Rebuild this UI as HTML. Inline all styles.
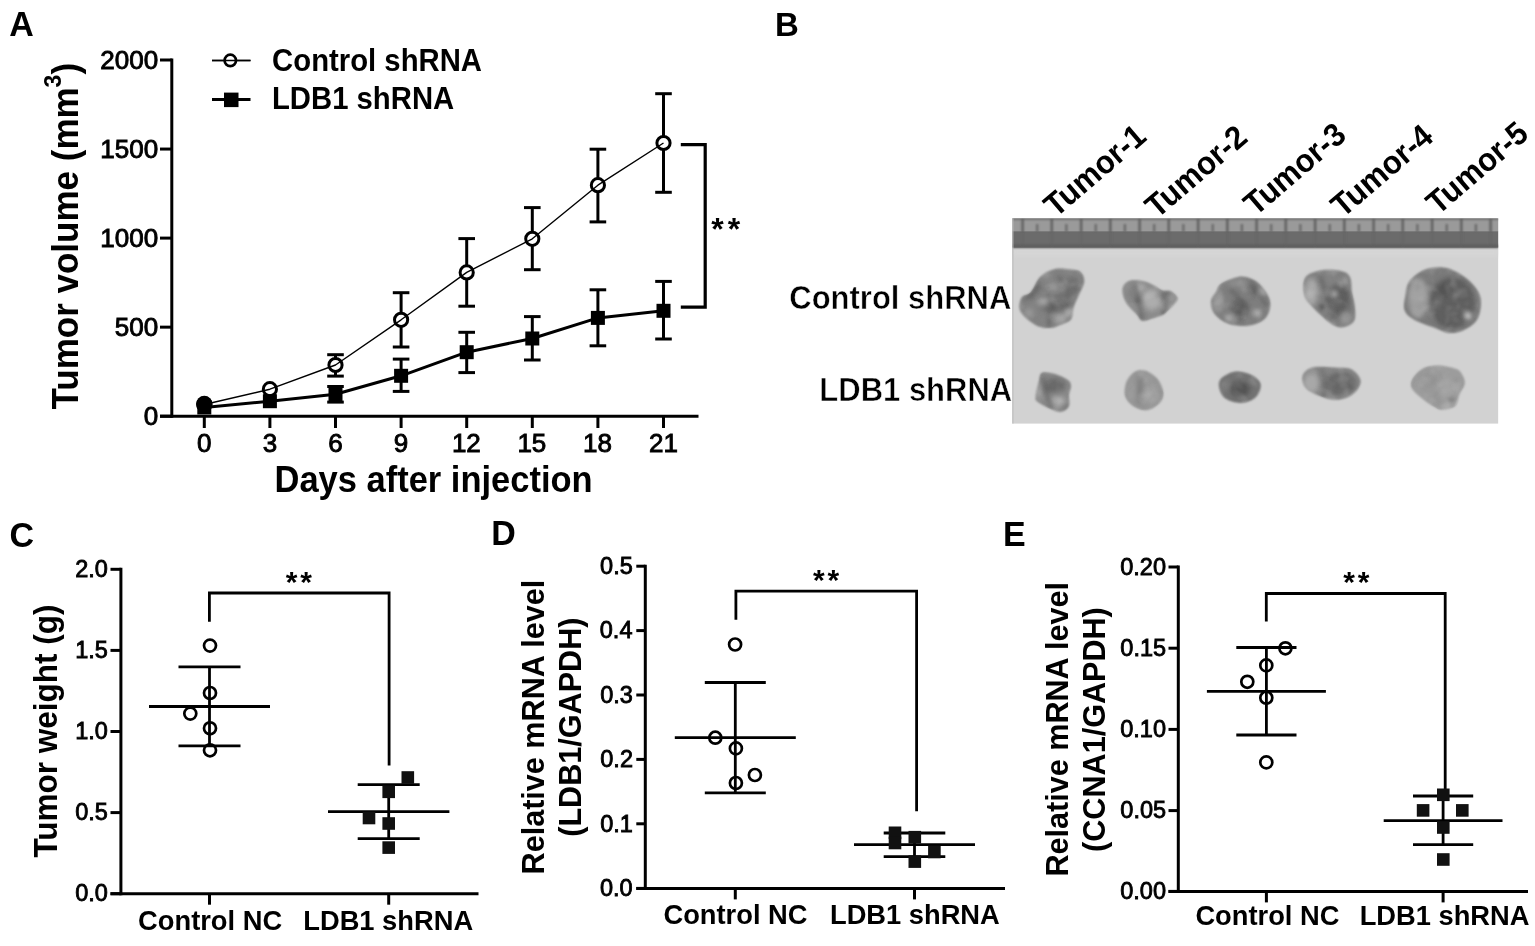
<!DOCTYPE html>
<html><head><meta charset="utf-8"><title>Figure</title>
<style>html,body{margin:0;padding:0;background:#fff;} svg{display:block}</style></head>
<body><svg width="1535" height="946" viewBox="0 0 1535 946">
<style>text{stroke:none}</style><rect width="1535" height="946" fill="#fff"/>
<g style="font-family:'Liberation Sans',Arial,sans-serif;font-weight:bold" fill="#000" stroke="#000" stroke-width="0">
</g>
<g fill="#000" stroke="#000" style="font-family:'Liberation Sans',Arial,sans-serif;font-weight:bold">
<text transform="translate(9.35,36.19) scale(1.0,1.03)" font-size="34">A</text>
<line x1="171.80" y1="58.50" x2="171.80" y2="417.80" stroke-width="3" stroke-linecap="butt"/>
<line x1="160.00" y1="60.00" x2="171.80" y2="60.00" stroke-width="3" stroke-linecap="butt"/>
<text x="100.34" y="68.64" font-size="26" font-weight="normal" style="stroke:#000;stroke-width:0.9px">2000</text>
<line x1="160.00" y1="149.05" x2="171.80" y2="149.05" stroke-width="3" stroke-linecap="butt"/>
<text x="100.34" y="157.69" font-size="26" font-weight="normal" style="stroke:#000;stroke-width:0.9px">1500</text>
<line x1="160.00" y1="238.10" x2="171.80" y2="238.10" stroke-width="3" stroke-linecap="butt"/>
<text x="100.34" y="246.74" font-size="26" font-weight="normal" style="stroke:#000;stroke-width:0.9px">1000</text>
<line x1="160.00" y1="327.15" x2="171.80" y2="327.15" stroke-width="3" stroke-linecap="butt"/>
<text x="114.80" y="335.79" font-size="26" font-weight="normal" style="stroke:#000;stroke-width:0.9px">500</text>
<line x1="160.00" y1="416.20" x2="171.80" y2="416.20" stroke-width="3" stroke-linecap="butt"/>
<text x="143.71" y="424.84" font-size="26" font-weight="normal" style="stroke:#000;stroke-width:0.9px">0</text>
<line x1="160.00" y1="416.20" x2="698.50" y2="416.20" stroke-width="3" stroke-linecap="butt"/>
<line x1="204.30" y1="416.20" x2="204.30" y2="428.00" stroke-width="3" stroke-linecap="butt"/>
<text x="197.07" y="451.80" font-size="26" font-weight="normal" style="stroke:#000;stroke-width:0.9px">0</text>
<line x1="269.90" y1="416.20" x2="269.90" y2="428.00" stroke-width="3" stroke-linecap="butt"/>
<text x="262.75" y="451.80" font-size="26" font-weight="normal" style="stroke:#000;stroke-width:0.9px">3</text>
<line x1="335.50" y1="416.20" x2="335.50" y2="428.00" stroke-width="3" stroke-linecap="butt"/>
<text x="328.18" y="451.80" font-size="26" font-weight="normal" style="stroke:#000;stroke-width:0.9px">6</text>
<line x1="401.10" y1="416.20" x2="401.10" y2="428.00" stroke-width="3" stroke-linecap="butt"/>
<text x="393.87" y="451.80" font-size="26" font-weight="normal" style="stroke:#000;stroke-width:0.9px">9</text>
<line x1="466.70" y1="416.20" x2="466.70" y2="428.00" stroke-width="3" stroke-linecap="butt"/>
<text x="451.91" y="451.80" font-size="26" font-weight="normal" style="stroke:#000;stroke-width:0.9px">12</text>
<line x1="532.30" y1="416.20" x2="532.30" y2="428.00" stroke-width="3" stroke-linecap="butt"/>
<text x="517.40" y="451.54" font-size="26" font-weight="normal" style="stroke:#000;stroke-width:0.9px">15</text>
<line x1="597.90" y1="416.20" x2="597.90" y2="428.00" stroke-width="3" stroke-linecap="butt"/>
<text x="583.01" y="451.80" font-size="26" font-weight="normal" style="stroke:#000;stroke-width:0.9px">18</text>
<line x1="663.50" y1="416.20" x2="663.50" y2="428.00" stroke-width="3" stroke-linecap="butt"/>
<text x="649.03" y="451.80" font-size="26" font-weight="normal" style="stroke:#000;stroke-width:0.9px">21</text>
<text transform="translate(274.49,492.30) scale(1.0,1.05)" font-size="34.5">Days after injection</text>
<text transform="translate(78.2,409.4) rotate(-90) scale(1,1.04)" font-size="35">Tumor volume (mm<tspan font-size="23" dy="-16.5">3</tspan><tspan dy="16.5">)</tspan></text>
<line x1="212.00" y1="60.40" x2="250.50" y2="60.40" stroke-width="1.5" stroke-linecap="butt"/>
<circle cx="230.3" cy="60.4" r="5.7" fill="#fff" stroke="#000" stroke-width="2.7"/>
<line x1="212.00" y1="60.40" x2="250.50" y2="60.40" stroke-width="1.5" stroke-linecap="butt"/>
<line x1="212.00" y1="99.60" x2="250.50" y2="99.60" stroke-width="3" stroke-linecap="butt"/>
<rect x="224" y="92.6" width="14.5" height="14.5" fill="#000" stroke="none"/>
<text transform="translate(272.10,70.60) scale(1.0,1.045)" font-size="29.3">Control shRNA</text>
<text transform="translate(271.94,109.30) scale(1.0,1.045)" font-size="29.3">LDB1 shRNA</text>
<line x1="335.50" y1="354.70" x2="335.50" y2="376.10" stroke-width="3" stroke-linecap="butt"/>
<line x1="327.20" y1="354.70" x2="343.80" y2="354.70" stroke-width="3" stroke-linecap="butt"/>
<line x1="327.20" y1="376.10" x2="343.80" y2="376.10" stroke-width="3" stroke-linecap="butt"/>
<line x1="335.50" y1="386.50" x2="335.50" y2="402.10" stroke-width="3" stroke-linecap="butt"/>
<line x1="327.20" y1="386.50" x2="343.80" y2="386.50" stroke-width="3" stroke-linecap="butt"/>
<line x1="327.20" y1="402.10" x2="343.80" y2="402.10" stroke-width="3" stroke-linecap="butt"/>
<line x1="401.10" y1="292.70" x2="401.10" y2="347.00" stroke-width="3" stroke-linecap="butt"/>
<line x1="392.80" y1="292.70" x2="409.40" y2="292.70" stroke-width="3" stroke-linecap="butt"/>
<line x1="392.80" y1="347.00" x2="409.40" y2="347.00" stroke-width="3" stroke-linecap="butt"/>
<line x1="401.10" y1="359.10" x2="401.10" y2="391.40" stroke-width="3" stroke-linecap="butt"/>
<line x1="392.80" y1="359.10" x2="409.40" y2="359.10" stroke-width="3" stroke-linecap="butt"/>
<line x1="392.80" y1="391.40" x2="409.40" y2="391.40" stroke-width="3" stroke-linecap="butt"/>
<line x1="466.70" y1="238.60" x2="466.70" y2="306.20" stroke-width="3" stroke-linecap="butt"/>
<line x1="458.40" y1="238.60" x2="475.00" y2="238.60" stroke-width="3" stroke-linecap="butt"/>
<line x1="458.40" y1="306.20" x2="475.00" y2="306.20" stroke-width="3" stroke-linecap="butt"/>
<line x1="466.70" y1="332.30" x2="466.70" y2="372.60" stroke-width="3" stroke-linecap="butt"/>
<line x1="458.40" y1="332.30" x2="475.00" y2="332.30" stroke-width="3" stroke-linecap="butt"/>
<line x1="458.40" y1="372.60" x2="475.00" y2="372.60" stroke-width="3" stroke-linecap="butt"/>
<line x1="532.30" y1="207.60" x2="532.30" y2="269.70" stroke-width="3" stroke-linecap="butt"/>
<line x1="524.00" y1="207.60" x2="540.60" y2="207.60" stroke-width="3" stroke-linecap="butt"/>
<line x1="524.00" y1="269.70" x2="540.60" y2="269.70" stroke-width="3" stroke-linecap="butt"/>
<line x1="532.30" y1="316.60" x2="532.30" y2="360.00" stroke-width="3" stroke-linecap="butt"/>
<line x1="524.00" y1="316.60" x2="540.60" y2="316.60" stroke-width="3" stroke-linecap="butt"/>
<line x1="524.00" y1="360.00" x2="540.60" y2="360.00" stroke-width="3" stroke-linecap="butt"/>
<line x1="597.90" y1="149.20" x2="597.90" y2="221.90" stroke-width="3" stroke-linecap="butt"/>
<line x1="589.60" y1="149.20" x2="606.20" y2="149.20" stroke-width="3" stroke-linecap="butt"/>
<line x1="589.60" y1="221.90" x2="606.20" y2="221.90" stroke-width="3" stroke-linecap="butt"/>
<line x1="597.90" y1="289.80" x2="597.90" y2="345.80" stroke-width="3" stroke-linecap="butt"/>
<line x1="589.60" y1="289.80" x2="606.20" y2="289.80" stroke-width="3" stroke-linecap="butt"/>
<line x1="589.60" y1="345.80" x2="606.20" y2="345.80" stroke-width="3" stroke-linecap="butt"/>
<line x1="663.50" y1="93.70" x2="663.50" y2="192.30" stroke-width="3" stroke-linecap="butt"/>
<line x1="655.20" y1="93.70" x2="671.80" y2="93.70" stroke-width="3" stroke-linecap="butt"/>
<line x1="655.20" y1="192.30" x2="671.80" y2="192.30" stroke-width="3" stroke-linecap="butt"/>
<line x1="663.50" y1="281.40" x2="663.50" y2="339.00" stroke-width="3" stroke-linecap="butt"/>
<line x1="655.20" y1="281.40" x2="671.80" y2="281.40" stroke-width="3" stroke-linecap="butt"/>
<line x1="655.20" y1="339.00" x2="671.80" y2="339.00" stroke-width="3" stroke-linecap="butt"/>
<polyline points="204.3,407.5 269.9,401.2 335.5,394.3 401.1,375.8 466.7,352.2 532.3,338.5 597.9,317.9 663.5,310.8" fill="none" stroke-width="3" stroke-linejoin="round"/>
<circle cx="204.3" cy="404.5" r="6.6" fill="#fff" stroke="#000" stroke-width="3"/>
<circle cx="269.9" cy="389.2" r="6.6" fill="#fff" stroke="#000" stroke-width="3"/>
<circle cx="335.5" cy="365.0" r="6.6" fill="#fff" stroke="#000" stroke-width="3"/>
<circle cx="401.1" cy="319.8" r="6.6" fill="#fff" stroke="#000" stroke-width="3"/>
<circle cx="466.7" cy="272.4" r="6.6" fill="#fff" stroke="#000" stroke-width="3"/>
<circle cx="532.3" cy="238.8" r="6.6" fill="#fff" stroke="#000" stroke-width="3"/>
<circle cx="597.9" cy="185.2" r="6.6" fill="#fff" stroke="#000" stroke-width="3"/>
<circle cx="663.5" cy="143.0" r="6.6" fill="#fff" stroke="#000" stroke-width="3"/>
<rect x="197.3" y="400.5" width="14" height="14" fill="#000" stroke="none"/>
<rect x="262.9" y="394.2" width="14" height="14" fill="#000" stroke="none"/>
<rect x="328.5" y="387.3" width="14" height="14" fill="#000" stroke="none"/>
<rect x="394.1" y="368.8" width="14" height="14" fill="#000" stroke="none"/>
<rect x="459.7" y="345.2" width="14" height="14" fill="#000" stroke="none"/>
<rect x="525.3" y="331.5" width="14" height="14" fill="#000" stroke="none"/>
<rect x="590.9" y="310.9" width="14" height="14" fill="#000" stroke="none"/>
<rect x="656.5" y="303.8" width="14" height="14" fill="#000" stroke="none"/>
<circle cx="204.3" cy="404" r="8.2" fill="#000" stroke="none"/>
<polyline points="204.3,404.5 269.9,389.2 335.5,365.0 401.1,319.8 466.7,272.4 532.3,238.8 597.9,185.2 663.5,143.0" fill="none" stroke-width="1.4" stroke-linejoin="round"/>
<path d="M680.8,144.6 H705.2 V307.2 H680.8" fill="none" stroke-width="3.2"/>
<text x="711.20" y="239.62" font-size="32">*</text>
<text x="727.70" y="239.62" font-size="32">*</text>
<text transform="translate(774.99,35.89) scale(1.0,1.03)" font-size="33">B</text>
<text transform="translate(789.28,309.40) scale(1.0,1.05)" font-size="31" style="stroke:#fff;stroke-width:0.5px">Control shRNA</text>
<text transform="translate(819.37,401.10) scale(1.0,1.05)" font-size="31" style="stroke:#fff;stroke-width:0.5px">LDB1 shRNA</text>
<text transform="translate(1055.68,218.25) rotate(-40.5) scale(1,1.05)" font-size="31">Tumor-1</text>
<text transform="translate(1156.90,219.30) rotate(-40.5) scale(1,1.05)" font-size="31">Tumor-2</text>
<text transform="translate(1255.50,216.80) rotate(-40.5) scale(1,1.05)" font-size="31">Tumor-3</text>
<text transform="translate(1342.68,218.55) rotate(-40.5) scale(1,1.05)" font-size="31">Tumor-4</text>
<text transform="translate(1437.98,215.65) rotate(-40.5) scale(1,1.05)" font-size="31">Tumor-5</text>
<defs><filter id="bl" x="-20%" y="-20%" width="140%" height="140%"><feGaussianBlur stdDeviation="1.3"/></filter><filter id="bl2" x="-50%" y="-50%" width="200%" height="200%"><feGaussianBlur stdDeviation="2.2"/></filter><filter id="nzd" x="0" y="0" width="100%" height="100%"><feTurbulence type="fractalNoise" baseFrequency="0.09" numOctaves="2" seed="7"/><feColorMatrix type="matrix" values="0 0 0 0 0.25  0 0 0 0 0.25  0 0 0 0 0.25  2.6 0 0 0 -1.25"/><feGaussianBlur stdDeviation="1.2"/></filter><filter id="nzl" x="0" y="0" width="100%" height="100%"><feTurbulence type="fractalNoise" baseFrequency="0.08" numOctaves="2" seed="19"/><feColorMatrix type="matrix" values="0 0 0 0 0.8  0 0 0 0 0.8  0 0 0 0 0.8  2.6 0 0 0 -1.3"/><feGaussianBlur stdDeviation="1.2"/></filter><filter id="bl3" filterUnits="userSpaceOnUse" x="1000" y="200" width="520" height="240"><feGaussianBlur stdDeviation="2.2"/></filter><clipPath id="pc"><rect x="1012.2" y="218.2" width="486.2" height="205.6"/></clipPath></defs>
<g stroke="none" clip-path="url(#pc)">
<rect x="1012.2" y="218.2" width="486.2" height="205.6" fill="#d2d2d2"/>
<rect x="1012.2" y="248" width="486.2" height="8" fill="#d6d6d6" filter="url(#bl2)"/>
<rect x="1012.2" y="218.2" width="486.2" height="13.2" fill="#9a9a9a"/>
<rect x="1012.2" y="231.2" width="486.2" height="16.4" fill="#6b6b6b"/>
<g filter="url(#bl)"><rect x="1012.2" y="217.8" width="486.2" height="2" fill="#6a6a6a"/><rect x="1012.2" y="244.5" width="486.2" height="3.5" fill="#5f5f5f"/><rect x="1021.4" y="218.5" width="2.4" height="13.5" fill="#5e5e5e"/><rect x="1021.6" y="232" width="2" height="15" fill="#626262" opacity="0.6"/><rect x="1036.2" y="224" width="2" height="8" fill="#646464"/><rect x="1050.6" y="218.5" width="2.4" height="13.5" fill="#5e5e5e"/><rect x="1050.8" y="232" width="2" height="15" fill="#626262" opacity="0.6"/><rect x="1065.4" y="224" width="2" height="8" fill="#646464"/><rect x="1079.9" y="218.5" width="2.4" height="13.5" fill="#5e5e5e"/><rect x="1080.1" y="232" width="2" height="15" fill="#626262" opacity="0.6"/><rect x="1094.7" y="224" width="2" height="8" fill="#646464"/><rect x="1109.1" y="218.5" width="2.4" height="13.5" fill="#5e5e5e"/><rect x="1109.3" y="232" width="2" height="15" fill="#626262" opacity="0.6"/><rect x="1123.9" y="224" width="2" height="8" fill="#646464"/><rect x="1138.4" y="218.5" width="2.4" height="13.5" fill="#5e5e5e"/><rect x="1138.6" y="232" width="2" height="15" fill="#626262" opacity="0.6"/><rect x="1153.2" y="224" width="2" height="8" fill="#646464"/><rect x="1167.6" y="218.5" width="2.4" height="13.5" fill="#5e5e5e"/><rect x="1167.8" y="232" width="2" height="15" fill="#626262" opacity="0.6"/><rect x="1182.4" y="224" width="2" height="8" fill="#646464"/><rect x="1196.9" y="218.5" width="2.4" height="13.5" fill="#5e5e5e"/><rect x="1197.1" y="232" width="2" height="15" fill="#626262" opacity="0.6"/><rect x="1211.7" y="224" width="2" height="8" fill="#646464"/><rect x="1226.1" y="218.5" width="2.4" height="13.5" fill="#5e5e5e"/><rect x="1226.3" y="232" width="2" height="15" fill="#626262" opacity="0.6"/><rect x="1240.9" y="224" width="2" height="8" fill="#646464"/><rect x="1255.4" y="218.5" width="2.4" height="13.5" fill="#5e5e5e"/><rect x="1255.6" y="232" width="2" height="15" fill="#626262" opacity="0.6"/><rect x="1270.2" y="224" width="2" height="8" fill="#646464"/><rect x="1284.6" y="218.5" width="2.4" height="13.5" fill="#5e5e5e"/><rect x="1284.8" y="232" width="2" height="15" fill="#626262" opacity="0.6"/><rect x="1299.4" y="224" width="2" height="8" fill="#646464"/><rect x="1313.9" y="218.5" width="2.4" height="13.5" fill="#5e5e5e"/><rect x="1314.1" y="232" width="2" height="15" fill="#626262" opacity="0.6"/><rect x="1328.7" y="224" width="2" height="8" fill="#646464"/><rect x="1343.1" y="218.5" width="2.4" height="13.5" fill="#5e5e5e"/><rect x="1343.3" y="232" width="2" height="15" fill="#626262" opacity="0.6"/><rect x="1357.9" y="224" width="2" height="8" fill="#646464"/><rect x="1372.4" y="218.5" width="2.4" height="13.5" fill="#5e5e5e"/><rect x="1372.6" y="232" width="2" height="15" fill="#626262" opacity="0.6"/><rect x="1387.2" y="224" width="2" height="8" fill="#646464"/><rect x="1401.6" y="218.5" width="2.4" height="13.5" fill="#5e5e5e"/><rect x="1401.8" y="232" width="2" height="15" fill="#626262" opacity="0.6"/><rect x="1416.4" y="224" width="2" height="8" fill="#646464"/><rect x="1430.9" y="218.5" width="2.4" height="13.5" fill="#5e5e5e"/><rect x="1431.1" y="232" width="2" height="15" fill="#626262" opacity="0.6"/><rect x="1445.7" y="224" width="2" height="8" fill="#646464"/><rect x="1460.1" y="218.5" width="2.4" height="13.5" fill="#5e5e5e"/><rect x="1460.3" y="232" width="2" height="15" fill="#626262" opacity="0.6"/><rect x="1474.9" y="224" width="2" height="8" fill="#646464"/><rect x="1489.4" y="218.5" width="2.4" height="13.5" fill="#5e5e5e"/><rect x="1489.6" y="232" width="2" height="15" fill="#626262" opacity="0.6"/></g>
<rect x="1012.2" y="218.2" width="1.2" height="205.6" fill="#b8b8b8"/>
<clipPath id="tc"><path d="M1054.8,269.0 C1059.9,267.8 1066.7,269.0 1071.0,269.5 C1075.3,270.0 1078.3,269.9 1080.5,271.9 C1082.7,273.9 1084.6,277.4 1084.3,281.4 C1084.0,285.4 1080.3,291.4 1078.6,295.7 C1076.8,300.0 1075.1,303.0 1073.8,307.0 C1072.5,311.0 1073.4,316.5 1071.0,319.5 C1068.6,322.5 1063.1,323.8 1059.6,325.2 C1056.1,326.6 1054.0,328.0 1050.0,328.0 C1046.0,328.0 1040.7,327.9 1035.8,325.2 C1030.9,322.5 1023.0,316.4 1020.6,311.8 C1018.2,307.2 1019.8,300.9 1021.5,297.6 C1023.2,294.3 1027.8,295.4 1031.0,291.9 C1034.2,288.4 1036.5,280.4 1040.5,276.6 C1044.5,272.8 1049.7,270.2 1054.8,269.0Z"/><path d="M1123.5,285.4 C1124.9,283.1 1127.7,281.0 1131.1,280.3 C1134.5,279.6 1140.0,280.4 1143.8,281.2 C1147.6,282.0 1150.9,283.8 1154.0,285.4 C1157.1,286.9 1159.7,289.5 1162.5,290.5 C1165.3,291.5 1168.4,290.0 1170.9,291.3 C1173.4,292.6 1177.1,296.0 1177.7,298.1 C1178.3,300.2 1176.0,301.9 1174.3,304.0 C1172.6,306.1 1169.5,309.0 1167.5,310.8 C1165.5,312.6 1165.0,313.7 1162.5,315.0 C1160.0,316.3 1155.7,317.4 1152.3,318.4 C1148.9,319.4 1144.6,321.5 1142.1,320.9 C1139.6,320.3 1139.6,317.8 1137.1,315.0 C1134.6,312.2 1129.3,307.5 1126.9,304.0 C1124.5,300.5 1123.3,296.9 1122.7,293.8 C1122.1,290.7 1122.1,287.6 1123.5,285.4Z"/><path d="M1221.2,283.7 C1224.9,281.2 1233.2,277.8 1238.1,276.9 C1243.0,276.0 1247.0,277.2 1250.8,278.6 C1254.6,280.0 1258.0,282.4 1260.9,285.4 C1263.9,288.4 1267.0,292.9 1268.5,296.4 C1270.0,299.9 1270.6,303.0 1270.2,306.5 C1269.8,310.0 1268.5,314.5 1266.0,317.5 C1263.5,320.5 1259.2,322.9 1255.0,324.3 C1250.8,325.7 1245.5,326.3 1240.6,326.0 C1235.7,325.7 1229.9,324.9 1225.4,322.6 C1220.9,320.4 1215.9,316.2 1213.5,312.5 C1211.1,308.8 1210.6,304.0 1211.0,300.6 C1211.4,297.2 1214.4,294.9 1216.1,292.1 C1217.8,289.3 1217.5,286.2 1221.2,283.7Z"/><path d="M1305.3,277.5 C1308.1,273.3 1315.4,271.4 1321.5,270.3 C1327.6,269.2 1337.3,270.0 1342.1,271.2 C1346.9,272.4 1348.5,273.9 1350.2,277.5 C1351.9,281.1 1351.2,288.2 1352.0,292.8 C1352.8,297.4 1354.2,300.8 1354.7,305.3 C1355.2,309.8 1355.9,316.2 1354.7,319.7 C1353.5,323.1 1350.3,324.8 1347.5,326.0 C1344.7,327.2 1341.2,327.9 1337.6,326.9 C1334.0,325.8 1330.2,323.0 1326.0,319.7 C1321.8,316.4 1316.1,311.2 1312.5,307.1 C1308.9,303.1 1305.6,300.3 1304.4,295.4 C1303.2,290.5 1302.5,281.7 1305.3,277.5Z"/><path d="M1409.3,281.6 C1412.3,277.5 1418.0,272.6 1423.5,270.2 C1429.0,267.8 1437.0,267.1 1442.6,267.4 C1448.1,267.7 1452.0,269.6 1456.8,272.1 C1461.5,274.6 1467.3,278.8 1471.1,282.6 C1474.9,286.4 1478.1,290.7 1479.7,295.0 C1481.3,299.3 1481.2,303.9 1480.6,308.3 C1480.0,312.7 1478.8,318.0 1475.9,321.6 C1473.1,325.2 1468.0,328.3 1463.5,330.2 C1459.0,332.1 1454.3,333.5 1449.2,333.0 C1444.1,332.5 1439.0,329.5 1433.1,327.3 C1427.2,325.1 1418.8,322.6 1414.0,319.7 C1409.2,316.8 1405.9,314.3 1404.5,310.2 C1403.1,306.1 1404.7,299.8 1405.5,295.0 C1406.3,290.2 1406.3,285.7 1409.3,281.6Z"/><path d="M1041.9,372.7 C1044.5,371.5 1050.1,372.6 1054.4,373.8 C1058.8,375.0 1065.2,377.9 1068.0,380.0 C1070.8,382.1 1070.9,383.9 1071.1,386.3 C1071.3,388.7 1069.3,391.3 1069.0,394.6 C1068.7,397.9 1070.2,403.2 1069.0,406.1 C1067.8,409.0 1064.7,411.3 1061.7,411.8 C1058.8,412.3 1055.3,410.9 1051.3,409.2 C1047.3,407.5 1040.3,404.0 1037.7,401.9 C1035.1,399.8 1035.4,400.2 1035.6,396.7 C1035.8,393.2 1037.8,385.1 1038.8,381.1 C1039.8,377.1 1039.3,373.9 1041.9,372.7Z"/><path d="M1134.7,371.7 C1137.8,369.8 1141.3,369.4 1145.1,370.6 C1148.9,371.8 1154.6,375.4 1157.6,379.0 C1160.6,382.6 1162.9,388.5 1163.3,392.5 C1163.7,396.5 1162.4,400.1 1159.7,403.0 C1157.0,405.9 1151.4,409.5 1147.2,410.2 C1143.0,410.9 1138.4,409.4 1134.7,407.1 C1131.0,404.9 1126.7,400.9 1125.3,396.7 C1123.9,392.5 1124.7,386.3 1126.3,382.1 C1127.9,377.9 1131.6,373.6 1134.7,371.7Z"/><path d="M1220.6,379.0 C1223.0,376.1 1229.5,372.6 1234.2,371.7 C1238.9,370.8 1244.6,372.2 1248.8,373.8 C1253.0,375.4 1257.3,378.5 1259.2,381.1 C1261.1,383.7 1261.1,386.4 1260.2,389.4 C1259.3,392.3 1257.3,396.5 1254.0,398.8 C1250.7,401.1 1245.1,403.0 1240.4,403.0 C1235.7,403.0 1229.3,401.1 1225.8,398.8 C1222.3,396.5 1220.5,392.7 1219.6,389.4 C1218.7,386.1 1218.2,381.9 1220.6,379.0Z"/><path d="M1304.0,372.7 C1306.0,370.3 1309.2,367.9 1314.4,367.0 C1319.6,366.1 1329.2,367.1 1335.3,367.5 C1341.4,367.9 1346.7,367.2 1350.9,369.1 C1355.1,371.0 1359.1,375.8 1360.3,379.0 C1361.5,382.2 1360.1,385.4 1358.2,388.4 C1356.3,391.3 1352.6,394.8 1348.8,396.7 C1345.0,398.6 1339.8,399.8 1335.3,399.8 C1330.8,399.8 1326.4,398.4 1321.7,396.7 C1317.0,395.0 1310.3,392.0 1307.1,389.4 C1303.9,386.8 1303.0,383.9 1302.5,381.1 C1302.0,378.3 1302.0,375.1 1304.0,372.7Z"/><path d="M1412.2,379.4 C1414.0,375.9 1419.0,370.6 1423.3,368.3 C1427.6,366.0 1432.5,365.3 1438.1,365.4 C1443.6,365.5 1452.4,367.2 1456.6,369.0 C1460.8,370.8 1461.8,373.8 1463.2,376.4 C1464.6,379.0 1465.3,381.6 1464.7,384.6 C1464.1,387.6 1461.1,390.6 1459.5,394.2 C1457.9,397.8 1458.0,403.4 1455.1,406.0 C1452.1,408.6 1445.2,409.6 1441.8,409.7 C1438.3,409.8 1437.5,408.5 1434.4,406.8 C1431.3,405.1 1427.0,402.4 1423.3,399.4 C1419.6,396.4 1414.0,392.3 1412.2,389.0 C1410.4,385.7 1410.4,382.8 1412.2,379.4Z"/></clipPath>
<clipPath id="cC1"><path d="M1054.8,269.0 C1059.9,267.8 1066.7,269.0 1071.0,269.5 C1075.3,270.0 1078.3,269.9 1080.5,271.9 C1082.7,273.9 1084.6,277.4 1084.3,281.4 C1084.0,285.4 1080.3,291.4 1078.6,295.7 C1076.8,300.0 1075.1,303.0 1073.8,307.0 C1072.5,311.0 1073.4,316.5 1071.0,319.5 C1068.6,322.5 1063.1,323.8 1059.6,325.2 C1056.1,326.6 1054.0,328.0 1050.0,328.0 C1046.0,328.0 1040.7,327.9 1035.8,325.2 C1030.9,322.5 1023.0,316.4 1020.6,311.8 C1018.2,307.2 1019.8,300.9 1021.5,297.6 C1023.2,294.3 1027.8,295.4 1031.0,291.9 C1034.2,288.4 1036.5,280.4 1040.5,276.6 C1044.5,272.8 1049.7,270.2 1054.8,269.0Z"/></clipPath>
<clipPath id="cC2"><path d="M1123.5,285.4 C1124.9,283.1 1127.7,281.0 1131.1,280.3 C1134.5,279.6 1140.0,280.4 1143.8,281.2 C1147.6,282.0 1150.9,283.8 1154.0,285.4 C1157.1,286.9 1159.7,289.5 1162.5,290.5 C1165.3,291.5 1168.4,290.0 1170.9,291.3 C1173.4,292.6 1177.1,296.0 1177.7,298.1 C1178.3,300.2 1176.0,301.9 1174.3,304.0 C1172.6,306.1 1169.5,309.0 1167.5,310.8 C1165.5,312.6 1165.0,313.7 1162.5,315.0 C1160.0,316.3 1155.7,317.4 1152.3,318.4 C1148.9,319.4 1144.6,321.5 1142.1,320.9 C1139.6,320.3 1139.6,317.8 1137.1,315.0 C1134.6,312.2 1129.3,307.5 1126.9,304.0 C1124.5,300.5 1123.3,296.9 1122.7,293.8 C1122.1,290.7 1122.1,287.6 1123.5,285.4Z"/></clipPath>
<clipPath id="cC3"><path d="M1221.2,283.7 C1224.9,281.2 1233.2,277.8 1238.1,276.9 C1243.0,276.0 1247.0,277.2 1250.8,278.6 C1254.6,280.0 1258.0,282.4 1260.9,285.4 C1263.9,288.4 1267.0,292.9 1268.5,296.4 C1270.0,299.9 1270.6,303.0 1270.2,306.5 C1269.8,310.0 1268.5,314.5 1266.0,317.5 C1263.5,320.5 1259.2,322.9 1255.0,324.3 C1250.8,325.7 1245.5,326.3 1240.6,326.0 C1235.7,325.7 1229.9,324.9 1225.4,322.6 C1220.9,320.4 1215.9,316.2 1213.5,312.5 C1211.1,308.8 1210.6,304.0 1211.0,300.6 C1211.4,297.2 1214.4,294.9 1216.1,292.1 C1217.8,289.3 1217.5,286.2 1221.2,283.7Z"/></clipPath>
<clipPath id="cC4"><path d="M1305.3,277.5 C1308.1,273.3 1315.4,271.4 1321.5,270.3 C1327.6,269.2 1337.3,270.0 1342.1,271.2 C1346.9,272.4 1348.5,273.9 1350.2,277.5 C1351.9,281.1 1351.2,288.2 1352.0,292.8 C1352.8,297.4 1354.2,300.8 1354.7,305.3 C1355.2,309.8 1355.9,316.2 1354.7,319.7 C1353.5,323.1 1350.3,324.8 1347.5,326.0 C1344.7,327.2 1341.2,327.9 1337.6,326.9 C1334.0,325.8 1330.2,323.0 1326.0,319.7 C1321.8,316.4 1316.1,311.2 1312.5,307.1 C1308.9,303.1 1305.6,300.3 1304.4,295.4 C1303.2,290.5 1302.5,281.7 1305.3,277.5Z"/></clipPath>
<clipPath id="cC5"><path d="M1409.3,281.6 C1412.3,277.5 1418.0,272.6 1423.5,270.2 C1429.0,267.8 1437.0,267.1 1442.6,267.4 C1448.1,267.7 1452.0,269.6 1456.8,272.1 C1461.5,274.6 1467.3,278.8 1471.1,282.6 C1474.9,286.4 1478.1,290.7 1479.7,295.0 C1481.3,299.3 1481.2,303.9 1480.6,308.3 C1480.0,312.7 1478.8,318.0 1475.9,321.6 C1473.1,325.2 1468.0,328.3 1463.5,330.2 C1459.0,332.1 1454.3,333.5 1449.2,333.0 C1444.1,332.5 1439.0,329.5 1433.1,327.3 C1427.2,325.1 1418.8,322.6 1414.0,319.7 C1409.2,316.8 1405.9,314.3 1404.5,310.2 C1403.1,306.1 1404.7,299.8 1405.5,295.0 C1406.3,290.2 1406.3,285.7 1409.3,281.6Z"/></clipPath>
<clipPath id="cL1"><path d="M1041.9,372.7 C1044.5,371.5 1050.1,372.6 1054.4,373.8 C1058.8,375.0 1065.2,377.9 1068.0,380.0 C1070.8,382.1 1070.9,383.9 1071.1,386.3 C1071.3,388.7 1069.3,391.3 1069.0,394.6 C1068.7,397.9 1070.2,403.2 1069.0,406.1 C1067.8,409.0 1064.7,411.3 1061.7,411.8 C1058.8,412.3 1055.3,410.9 1051.3,409.2 C1047.3,407.5 1040.3,404.0 1037.7,401.9 C1035.1,399.8 1035.4,400.2 1035.6,396.7 C1035.8,393.2 1037.8,385.1 1038.8,381.1 C1039.8,377.1 1039.3,373.9 1041.9,372.7Z"/></clipPath>
<clipPath id="cL2"><path d="M1134.7,371.7 C1137.8,369.8 1141.3,369.4 1145.1,370.6 C1148.9,371.8 1154.6,375.4 1157.6,379.0 C1160.6,382.6 1162.9,388.5 1163.3,392.5 C1163.7,396.5 1162.4,400.1 1159.7,403.0 C1157.0,405.9 1151.4,409.5 1147.2,410.2 C1143.0,410.9 1138.4,409.4 1134.7,407.1 C1131.0,404.9 1126.7,400.9 1125.3,396.7 C1123.9,392.5 1124.7,386.3 1126.3,382.1 C1127.9,377.9 1131.6,373.6 1134.7,371.7Z"/></clipPath>
<clipPath id="cL3"><path d="M1220.6,379.0 C1223.0,376.1 1229.5,372.6 1234.2,371.7 C1238.9,370.8 1244.6,372.2 1248.8,373.8 C1253.0,375.4 1257.3,378.5 1259.2,381.1 C1261.1,383.7 1261.1,386.4 1260.2,389.4 C1259.3,392.3 1257.3,396.5 1254.0,398.8 C1250.7,401.1 1245.1,403.0 1240.4,403.0 C1235.7,403.0 1229.3,401.1 1225.8,398.8 C1222.3,396.5 1220.5,392.7 1219.6,389.4 C1218.7,386.1 1218.2,381.9 1220.6,379.0Z"/></clipPath>
<clipPath id="cL4"><path d="M1304.0,372.7 C1306.0,370.3 1309.2,367.9 1314.4,367.0 C1319.6,366.1 1329.2,367.1 1335.3,367.5 C1341.4,367.9 1346.7,367.2 1350.9,369.1 C1355.1,371.0 1359.1,375.8 1360.3,379.0 C1361.5,382.2 1360.1,385.4 1358.2,388.4 C1356.3,391.3 1352.6,394.8 1348.8,396.7 C1345.0,398.6 1339.8,399.8 1335.3,399.8 C1330.8,399.8 1326.4,398.4 1321.7,396.7 C1317.0,395.0 1310.3,392.0 1307.1,389.4 C1303.9,386.8 1303.0,383.9 1302.5,381.1 C1302.0,378.3 1302.0,375.1 1304.0,372.7Z"/></clipPath>
<clipPath id="cL5"><path d="M1412.2,379.4 C1414.0,375.9 1419.0,370.6 1423.3,368.3 C1427.6,366.0 1432.5,365.3 1438.1,365.4 C1443.6,365.5 1452.4,367.2 1456.6,369.0 C1460.8,370.8 1461.8,373.8 1463.2,376.4 C1464.6,379.0 1465.3,381.6 1464.7,384.6 C1464.1,387.6 1461.1,390.6 1459.5,394.2 C1457.9,397.8 1458.0,403.4 1455.1,406.0 C1452.1,408.6 1445.2,409.6 1441.8,409.7 C1438.3,409.8 1437.5,408.5 1434.4,406.8 C1431.3,405.1 1427.0,402.4 1423.3,399.4 C1419.6,396.4 1414.0,392.3 1412.2,389.0 C1410.4,385.7 1410.4,382.8 1412.2,379.4Z"/></clipPath>
<g filter="url(#bl)"><path d="M1054.8,269.0 C1059.9,267.8 1066.7,269.0 1071.0,269.5 C1075.3,270.0 1078.3,269.9 1080.5,271.9 C1082.7,273.9 1084.6,277.4 1084.3,281.4 C1084.0,285.4 1080.3,291.4 1078.6,295.7 C1076.8,300.0 1075.1,303.0 1073.8,307.0 C1072.5,311.0 1073.4,316.5 1071.0,319.5 C1068.6,322.5 1063.1,323.8 1059.6,325.2 C1056.1,326.6 1054.0,328.0 1050.0,328.0 C1046.0,328.0 1040.7,327.9 1035.8,325.2 C1030.9,322.5 1023.0,316.4 1020.6,311.8 C1018.2,307.2 1019.8,300.9 1021.5,297.6 C1023.2,294.3 1027.8,295.4 1031.0,291.9 C1034.2,288.4 1036.5,280.4 1040.5,276.6 C1044.5,272.8 1049.7,270.2 1054.8,269.0Z" fill="#828282"/><g clip-path="url(#cC1)"><g filter="url(#bl3)"><ellipse cx="1056" cy="306" rx="16" ry="6" fill="#5e5e5e" opacity="0.8"/><ellipse cx="1072" cy="284" rx="8" ry="7" fill="#666" opacity="0.7"/><ellipse cx="1036" cy="290" rx="7" ry="5" fill="#6e6e6e" opacity="0.6"/><ellipse cx="1043" cy="300" rx="6" ry="6" fill="#a8a8a8" opacity="0.9"/><ellipse cx="1060" cy="319" rx="6" ry="5" fill="#ababab" opacity="0.9"/><ellipse cx="1071" cy="312" rx="4" ry="4" fill="#b2b2b2" opacity="0.9"/><ellipse cx="1029" cy="313" rx="5" ry="5" fill="#9c9c9c" opacity="0.8"/><ellipse cx="1053" cy="287" rx="5" ry="4" fill="#a0a0a0" opacity="0.8"/><ellipse cx="1045" cy="275" rx="6" ry="3" fill="#9e9e9e" opacity="0.7"/><ellipse cx="1065" cy="286" rx="1.8" ry="1.8" fill="#e4e4e4" opacity="0.9"/><ellipse cx="1066" cy="315" rx="1.8" ry="1.8" fill="#d8d8d8" opacity="0.8"/></g></g></g>
<g filter="url(#bl)"><path d="M1123.5,285.4 C1124.9,283.1 1127.7,281.0 1131.1,280.3 C1134.5,279.6 1140.0,280.4 1143.8,281.2 C1147.6,282.0 1150.9,283.8 1154.0,285.4 C1157.1,286.9 1159.7,289.5 1162.5,290.5 C1165.3,291.5 1168.4,290.0 1170.9,291.3 C1173.4,292.6 1177.1,296.0 1177.7,298.1 C1178.3,300.2 1176.0,301.9 1174.3,304.0 C1172.6,306.1 1169.5,309.0 1167.5,310.8 C1165.5,312.6 1165.0,313.7 1162.5,315.0 C1160.0,316.3 1155.7,317.4 1152.3,318.4 C1148.9,319.4 1144.6,321.5 1142.1,320.9 C1139.6,320.3 1139.6,317.8 1137.1,315.0 C1134.6,312.2 1129.3,307.5 1126.9,304.0 C1124.5,300.5 1123.3,296.9 1122.7,293.8 C1122.1,290.7 1122.1,287.6 1123.5,285.4Z" fill="#8e8e8e"/><g clip-path="url(#cC2)"><g filter="url(#bl3)"><ellipse cx="1152" cy="300" rx="9" ry="10" fill="#b0b0b0" opacity="0.9"/><ellipse cx="1141" cy="288" rx="5" ry="4" fill="#b0b0b0" opacity="0.8"/><ellipse cx="1138" cy="300" rx="2.8" ry="2.8" fill="#4a4a4a" opacity="0.9"/><ellipse cx="1165" cy="313" rx="3" ry="3" fill="#505050" opacity="0.9"/><ellipse cx="1167" cy="294" rx="4" ry="4" fill="#5e5e5e" opacity="0.7"/><ellipse cx="1131" cy="295" rx="4" ry="7" fill="#7a7a7a" opacity="0.6"/><ellipse cx="1142" cy="317" rx="5" ry="3" fill="#6a6a6a" opacity="0.6"/><ellipse cx="1172" cy="297" rx="4" ry="4" fill="#a4a4a4" opacity="0.6"/></g></g></g>
<g filter="url(#bl)"><path d="M1221.2,283.7 C1224.9,281.2 1233.2,277.8 1238.1,276.9 C1243.0,276.0 1247.0,277.2 1250.8,278.6 C1254.6,280.0 1258.0,282.4 1260.9,285.4 C1263.9,288.4 1267.0,292.9 1268.5,296.4 C1270.0,299.9 1270.6,303.0 1270.2,306.5 C1269.8,310.0 1268.5,314.5 1266.0,317.5 C1263.5,320.5 1259.2,322.9 1255.0,324.3 C1250.8,325.7 1245.5,326.3 1240.6,326.0 C1235.7,325.7 1229.9,324.9 1225.4,322.6 C1220.9,320.4 1215.9,316.2 1213.5,312.5 C1211.1,308.8 1210.6,304.0 1211.0,300.6 C1211.4,297.2 1214.4,294.9 1216.1,292.1 C1217.8,289.3 1217.5,286.2 1221.2,283.7Z" fill="#7e7e7e"/><g clip-path="url(#cC3)"><g filter="url(#bl3)"><ellipse cx="1240" cy="308" rx="9" ry="9" fill="#585858" opacity="0.8"/><ellipse cx="1253" cy="292" rx="7" ry="5" fill="#5e5e5e" opacity="0.7"/><ellipse cx="1262" cy="292" rx="4" ry="4" fill="#b8b8b8" opacity="0.9"/><ellipse cx="1257" cy="313" rx="4" ry="3" fill="#c4c4c4" opacity="0.9"/><ellipse cx="1229" cy="318" rx="3" ry="3" fill="#c4c4c4" opacity="0.8"/><ellipse cx="1218" cy="303" rx="6" ry="10" fill="#a2a2a2" opacity="0.7"/><ellipse cx="1238" cy="283" rx="10" ry="4" fill="#9a9a9a" opacity="0.6"/></g></g></g>
<g filter="url(#bl)"><path d="M1305.3,277.5 C1308.1,273.3 1315.4,271.4 1321.5,270.3 C1327.6,269.2 1337.3,270.0 1342.1,271.2 C1346.9,272.4 1348.5,273.9 1350.2,277.5 C1351.9,281.1 1351.2,288.2 1352.0,292.8 C1352.8,297.4 1354.2,300.8 1354.7,305.3 C1355.2,309.8 1355.9,316.2 1354.7,319.7 C1353.5,323.1 1350.3,324.8 1347.5,326.0 C1344.7,327.2 1341.2,327.9 1337.6,326.9 C1334.0,325.8 1330.2,323.0 1326.0,319.7 C1321.8,316.4 1316.1,311.2 1312.5,307.1 C1308.9,303.1 1305.6,300.3 1304.4,295.4 C1303.2,290.5 1302.5,281.7 1305.3,277.5Z" fill="#828282"/><g clip-path="url(#cC4)"><g filter="url(#bl3)"><ellipse cx="1311" cy="292" rx="7" ry="14" fill="#b0b0b0" opacity="0.85"/><ellipse cx="1338" cy="300" rx="11" ry="16" fill="#585858" opacity="0.8"/><ellipse cx="1343" cy="282" rx="3" ry="4" fill="#cccccc" opacity="0.9"/><ellipse cx="1334" cy="294" rx="2.5" ry="2.5" fill="#d4d4d4" opacity="0.9"/><ellipse cx="1322" cy="307" rx="2.5" ry="3" fill="#404040" opacity="0.9"/><ellipse cx="1346" cy="318" rx="5" ry="6" fill="#a4a4a4" opacity="0.7"/><ellipse cx="1330" cy="318" rx="4" ry="4" fill="#5a5a5a" opacity="0.6"/></g></g></g>
<g filter="url(#bl)"><path d="M1409.3,281.6 C1412.3,277.5 1418.0,272.6 1423.5,270.2 C1429.0,267.8 1437.0,267.1 1442.6,267.4 C1448.1,267.7 1452.0,269.6 1456.8,272.1 C1461.5,274.6 1467.3,278.8 1471.1,282.6 C1474.9,286.4 1478.1,290.7 1479.7,295.0 C1481.3,299.3 1481.2,303.9 1480.6,308.3 C1480.0,312.7 1478.8,318.0 1475.9,321.6 C1473.1,325.2 1468.0,328.3 1463.5,330.2 C1459.0,332.1 1454.3,333.5 1449.2,333.0 C1444.1,332.5 1439.0,329.5 1433.1,327.3 C1427.2,325.1 1418.8,322.6 1414.0,319.7 C1409.2,316.8 1405.9,314.3 1404.5,310.2 C1403.1,306.1 1404.7,299.8 1405.5,295.0 C1406.3,290.2 1406.3,285.7 1409.3,281.6Z" fill="#7a7a7a"/><g clip-path="url(#cC5)"><g filter="url(#bl3)"><ellipse cx="1418" cy="298" rx="10" ry="20" fill="#a6a6a6" opacity="0.9"/><ellipse cx="1452" cy="303" rx="23" ry="26" fill="#5a5a5a" opacity="0.85"/><ellipse cx="1446" cy="290" rx="8" ry="7" fill="#4e4e4e" opacity="0.6"/><ellipse cx="1468" cy="316" rx="2.8" ry="2.8" fill="#ececec" opacity="0.95"/><ellipse cx="1466" cy="312" rx="1.5" ry="1.5" fill="#d0d0d0" opacity="0.7"/></g></g></g>
<g filter="url(#bl)"><path d="M1041.9,372.7 C1044.5,371.5 1050.1,372.6 1054.4,373.8 C1058.8,375.0 1065.2,377.9 1068.0,380.0 C1070.8,382.1 1070.9,383.9 1071.1,386.3 C1071.3,388.7 1069.3,391.3 1069.0,394.6 C1068.7,397.9 1070.2,403.2 1069.0,406.1 C1067.8,409.0 1064.7,411.3 1061.7,411.8 C1058.8,412.3 1055.3,410.9 1051.3,409.2 C1047.3,407.5 1040.3,404.0 1037.7,401.9 C1035.1,399.8 1035.4,400.2 1035.6,396.7 C1035.8,393.2 1037.8,385.1 1038.8,381.1 C1039.8,377.1 1039.3,373.9 1041.9,372.7Z" fill="#888888"/><g clip-path="url(#cL1)"><g filter="url(#bl3)"><ellipse cx="1055" cy="386" rx="11" ry="8" fill="#626262" opacity="0.8"/><ellipse cx="1058" cy="401" rx="8" ry="6" fill="#aaaaaa" opacity="0.8"/><ellipse cx="1059" cy="400" rx="1.8" ry="2" fill="#e0e0e0" opacity="0.8"/><ellipse cx="1039" cy="392" rx="3" ry="10" fill="#a8a8a8" opacity="0.7"/><ellipse cx="1066" cy="407" rx="4" ry="3" fill="#6a6a6a" opacity="0.6"/></g></g></g>
<g filter="url(#bl)"><path d="M1134.7,371.7 C1137.8,369.8 1141.3,369.4 1145.1,370.6 C1148.9,371.8 1154.6,375.4 1157.6,379.0 C1160.6,382.6 1162.9,388.5 1163.3,392.5 C1163.7,396.5 1162.4,400.1 1159.7,403.0 C1157.0,405.9 1151.4,409.5 1147.2,410.2 C1143.0,410.9 1138.4,409.4 1134.7,407.1 C1131.0,404.9 1126.7,400.9 1125.3,396.7 C1123.9,392.5 1124.7,386.3 1126.3,382.1 C1127.9,377.9 1131.6,373.6 1134.7,371.7Z" fill="#989898"/><g clip-path="url(#cL2)"><g filter="url(#bl3)"><ellipse cx="1140" cy="390" rx="3" ry="14" fill="#747474" opacity="0.7"/><ellipse cx="1151" cy="395" rx="7" ry="9" fill="#ababab" opacity="0.7"/><ellipse cx="1130" cy="392" rx="3" ry="8" fill="#a2a2a2" opacity="0.5"/></g></g></g>
<g filter="url(#bl)"><path d="M1220.6,379.0 C1223.0,376.1 1229.5,372.6 1234.2,371.7 C1238.9,370.8 1244.6,372.2 1248.8,373.8 C1253.0,375.4 1257.3,378.5 1259.2,381.1 C1261.1,383.7 1261.1,386.4 1260.2,389.4 C1259.3,392.3 1257.3,396.5 1254.0,398.8 C1250.7,401.1 1245.1,403.0 1240.4,403.0 C1235.7,403.0 1229.3,401.1 1225.8,398.8 C1222.3,396.5 1220.5,392.7 1219.6,389.4 C1218.7,386.1 1218.2,381.9 1220.6,379.0Z" fill="#727272"/><g clip-path="url(#cL3)"><g filter="url(#bl3)"><ellipse cx="1240" cy="389" rx="10" ry="8" fill="#4e4e4e" opacity="0.8"/><ellipse cx="1226" cy="385" rx="4" ry="6" fill="#8a8a8a" opacity="0.5"/><ellipse cx="1252" cy="368" rx="1.5" ry="3" fill="#a0a0a0" opacity="0.6"/></g></g></g>
<g filter="url(#bl)"><path d="M1304.0,372.7 C1306.0,370.3 1309.2,367.9 1314.4,367.0 C1319.6,366.1 1329.2,367.1 1335.3,367.5 C1341.4,367.9 1346.7,367.2 1350.9,369.1 C1355.1,371.0 1359.1,375.8 1360.3,379.0 C1361.5,382.2 1360.1,385.4 1358.2,388.4 C1356.3,391.3 1352.6,394.8 1348.8,396.7 C1345.0,398.6 1339.8,399.8 1335.3,399.8 C1330.8,399.8 1326.4,398.4 1321.7,396.7 C1317.0,395.0 1310.3,392.0 1307.1,389.4 C1303.9,386.8 1303.0,383.9 1302.5,381.1 C1302.0,378.3 1302.0,375.1 1304.0,372.7Z" fill="#868686"/><g clip-path="url(#cL4)"><g filter="url(#bl3)"><ellipse cx="1311" cy="383" rx="8" ry="11" fill="#acacac" opacity="0.9"/><ellipse cx="1341" cy="384" rx="15" ry="12" fill="#5e5e5e" opacity="0.8"/></g></g></g>
<g filter="url(#bl)"><path d="M1412.2,379.4 C1414.0,375.9 1419.0,370.6 1423.3,368.3 C1427.6,366.0 1432.5,365.3 1438.1,365.4 C1443.6,365.5 1452.4,367.2 1456.6,369.0 C1460.8,370.8 1461.8,373.8 1463.2,376.4 C1464.6,379.0 1465.3,381.6 1464.7,384.6 C1464.1,387.6 1461.1,390.6 1459.5,394.2 C1457.9,397.8 1458.0,403.4 1455.1,406.0 C1452.1,408.6 1445.2,409.6 1441.8,409.7 C1438.3,409.8 1437.5,408.5 1434.4,406.8 C1431.3,405.1 1427.0,402.4 1423.3,399.4 C1419.6,396.4 1414.0,392.3 1412.2,389.0 C1410.4,385.7 1410.4,382.8 1412.2,379.4Z" fill="#9c9c9c"/><g clip-path="url(#cL5)"><g filter="url(#bl3)"><ellipse cx="1430" cy="380" rx="8" ry="8" fill="#8e8e8e" opacity="0.5"/><ellipse cx="1446" cy="388" rx="10" ry="10" fill="#acacac" opacity="0.6"/><ellipse cx="1451" cy="400" rx="3" ry="2.5" fill="#5e5e5e" opacity="0.7"/><ellipse cx="1445" cy="406" rx="6" ry="3" fill="#b8b8b8" opacity="0.7"/></g></g></g>
<g clip-path="url(#cC1)"><g filter="url(#bl3)" fill="none" stroke="#505050" stroke-width="3.2" opacity="0.55"><path d="M1030,298 C1042,292 1058,302 1078,290"/><path d="M1052,302 C1050,312 1052,320 1047,327"/><path d="M1058,276 C1066,284 1070,292 1068,300"/><path d="M1040,282 C1036,290 1030,296 1024,300"/></g></g>
<g clip-path="url(#cC2)"><g filter="url(#bl3)" fill="none" stroke="#505050" stroke-width="3.2" opacity="0.55"><path d="M1134,284 C1138,295 1140,305 1142,318"/><path d="M1160,292 C1166,300 1168,306 1166,312"/></g></g>
<g clip-path="url(#cC3)"><g filter="url(#bl3)" fill="none" stroke="#505050" stroke-width="3.2" opacity="0.55"><path d="M1230,290 C1240,296 1245,306 1240,322"/><path d="M1250,282 C1256,290 1262,298 1268,306"/></g></g>
<g clip-path="url(#cC4)"><g filter="url(#bl3)" fill="none" stroke="#505050" stroke-width="3.2" opacity="0.55"><path d="M1320,276 C1326,290 1328,305 1336,322"/><path d="M1340,276 C1346,290 1350,300 1350,312"/></g></g>
<g clip-path="url(#cL1)"><g filter="url(#bl3)" fill="none" stroke="#505050" stroke-width="3.2" opacity="0.55"><path d="M1043,376 C1044,388 1046,398 1052,408"/></g></g>
<g clip-path="url(#cL4)"><g filter="url(#bl3)" fill="none" stroke="#505050" stroke-width="3.2" opacity="0.55"><path d="M1322,369 C1326,380 1326,390 1322,397"/></g></g>
<g clip-path="url(#tc)"><rect x="1012" y="250" width="486" height="170" filter="url(#nzd)" opacity="0.45"/><rect x="1012" y="250" width="486" height="170" filter="url(#nzl)" opacity="0.2"/></g>
</g>
<text transform="translate(9.41,546.64) scale(1.0,1.03)" font-size="34">C</text>
<line x1="120.90" y1="567.80" x2="120.90" y2="895.20" stroke-width="3" stroke-linecap="butt"/>
<line x1="110.50" y1="569.30" x2="120.90" y2="569.30" stroke-width="3" stroke-linecap="butt"/>
<text x="75.13" y="577.08" font-size="23.5" font-weight="normal" style="stroke:#000;stroke-width:0.85px">2.0</text>
<line x1="110.50" y1="650.40" x2="120.90" y2="650.40" stroke-width="3" stroke-linecap="butt"/>
<text x="75.20" y="658.07" font-size="23.5" font-weight="normal" style="stroke:#000;stroke-width:0.85px">1.5</text>
<line x1="110.50" y1="731.50" x2="120.90" y2="731.50" stroke-width="3" stroke-linecap="butt"/>
<text x="75.13" y="739.28" font-size="23.5" font-weight="normal" style="stroke:#000;stroke-width:0.85px">1.0</text>
<line x1="110.50" y1="812.60" x2="120.90" y2="812.60" stroke-width="3" stroke-linecap="butt"/>
<text x="75.20" y="820.38" font-size="23.5" font-weight="normal" style="stroke:#000;stroke-width:0.85px">0.5</text>
<line x1="110.50" y1="893.70" x2="120.90" y2="893.70" stroke-width="3" stroke-linecap="butt"/>
<text x="75.13" y="901.48" font-size="23.5" font-weight="normal" style="stroke:#000;stroke-width:0.85px">0.0</text>
<line x1="110.50" y1="893.70" x2="478.50" y2="893.70" stroke-width="3" stroke-linecap="butt"/>
<line x1="209.50" y1="893.70" x2="209.50" y2="904.70" stroke-width="3" stroke-linecap="butt"/>
<line x1="388.70" y1="893.70" x2="388.70" y2="904.70" stroke-width="3" stroke-linecap="butt"/>
<text transform="translate(138.08,929.50) scale(1.0,1.03)" font-size="27.3">Control NC</text>
<text transform="translate(303.27,929.50) scale(1.0,1.03)" font-size="27.3">LDB1 shRNA</text>
<text transform="translate(56.80,857.55) rotate(-90) scale(1,1.03)" font-size="31.5">Tumor weight (g)</text>
<path d="M209.4,621.8 V593 H389.1 V765.6" fill="none" stroke-width="2.8"/>
<text x="285.71" y="591.64" font-size="30">*</text>
<text x="300.21" y="591.64" font-size="30">*</text>
<line x1="149.00" y1="706.50" x2="270.00" y2="706.50" stroke-width="2.8" stroke-linecap="butt"/>
<line x1="178.50" y1="666.80" x2="240.50" y2="666.80" stroke-width="2.8" stroke-linecap="butt"/>
<line x1="178.50" y1="745.80" x2="240.50" y2="745.80" stroke-width="2.8" stroke-linecap="butt"/>
<line x1="209.50" y1="666.80" x2="209.50" y2="745.80" stroke-width="2.8" stroke-linecap="butt"/>
<line x1="328.00" y1="811.60" x2="449.40" y2="811.60" stroke-width="2.8" stroke-linecap="butt"/>
<line x1="357.70" y1="784.70" x2="419.70" y2="784.70" stroke-width="2.8" stroke-linecap="butt"/>
<line x1="357.70" y1="838.60" x2="419.70" y2="838.60" stroke-width="2.8" stroke-linecap="butt"/>
<line x1="388.70" y1="784.70" x2="388.70" y2="838.60" stroke-width="2.8" stroke-linecap="butt"/>
<circle cx="210" cy="645.6" r="6.0" fill="none" stroke="#000" stroke-width="2.7"/>
<circle cx="210" cy="693" r="6.0" fill="none" stroke="#000" stroke-width="2.7"/>
<circle cx="210" cy="728.3" r="6.0" fill="none" stroke="#000" stroke-width="2.7"/>
<circle cx="210" cy="750.3" r="6.0" fill="none" stroke="#000" stroke-width="2.7"/>
<circle cx="190.3" cy="713.6" r="6.0" fill="none" stroke="#000" stroke-width="2.7"/>
<rect x="401.5" y="771.2" width="12.6" height="12.6" fill="#111" stroke="none"/>
<rect x="382.4" y="785.5" width="12.6" height="12.6" fill="#111" stroke="none"/>
<rect x="362.7" y="811.7" width="12.6" height="12.6" fill="#111" stroke="none"/>
<rect x="382.4" y="817.2" width="12.6" height="12.6" fill="#111" stroke="none"/>
<rect x="382.4" y="841.3000000000001" width="12.6" height="12.6" fill="#111" stroke="none"/>
<text transform="translate(491.32,545.29) scale(1.0,1.03)" font-size="34">D</text>
<line x1="645.30" y1="564.70" x2="645.30" y2="889.90" stroke-width="3" stroke-linecap="butt"/>
<line x1="636.30" y1="566.20" x2="645.30" y2="566.20" stroke-width="3" stroke-linecap="butt"/>
<text x="600.10" y="573.98" font-size="23.5" font-weight="normal" style="stroke:#000;stroke-width:0.85px">0.5</text>
<line x1="636.30" y1="630.60" x2="645.30" y2="630.60" stroke-width="3" stroke-linecap="butt"/>
<text x="599.79" y="638.38" font-size="23.5" font-weight="normal" style="stroke:#000;stroke-width:0.85px">0.4</text>
<line x1="636.30" y1="695.00" x2="645.30" y2="695.00" stroke-width="3" stroke-linecap="butt"/>
<text x="600.14" y="702.78" font-size="23.5" font-weight="normal" style="stroke:#000;stroke-width:0.85px">0.3</text>
<line x1="636.30" y1="759.40" x2="645.30" y2="759.40" stroke-width="3" stroke-linecap="butt"/>
<text x="600.29" y="767.18" font-size="23.5" font-weight="normal" style="stroke:#000;stroke-width:0.85px">0.2</text>
<line x1="636.30" y1="823.80" x2="645.30" y2="823.80" stroke-width="3" stroke-linecap="butt"/>
<text x="600.26" y="831.58" font-size="23.5" font-weight="normal" style="stroke:#000;stroke-width:0.85px">0.1</text>
<line x1="636.30" y1="888.40" x2="645.30" y2="888.40" stroke-width="3" stroke-linecap="butt"/>
<text x="600.03" y="896.18" font-size="23.5" font-weight="normal" style="stroke:#000;stroke-width:0.85px">0.0</text>
<line x1="636.30" y1="888.40" x2="1005.00" y2="888.40" stroke-width="3" stroke-linecap="butt"/>
<line x1="735.30" y1="888.40" x2="735.30" y2="899.40" stroke-width="3" stroke-linecap="butt"/>
<line x1="914.50" y1="888.40" x2="914.50" y2="899.40" stroke-width="3" stroke-linecap="butt"/>
<text transform="translate(663.48,924.40) scale(1.0,1.03)" font-size="27.3">Control NC</text>
<text transform="translate(829.97,924.40) scale(1.0,1.03)" font-size="27.3">LDB1 shRNA</text>
<text transform="translate(543.90,874.44) rotate(-90) scale(1,1.03)" font-size="30.6">Relative mRNA level</text>
<text transform="translate(581.00,836.76) rotate(-90) scale(1,1.03)" font-size="30.6">(LDB1/GAPDH)</text>
<path d="M735.9,619.7 V591.2 H916.6 V811.2" fill="none" stroke-width="2.8"/>
<text x="813.11" y="590.34" font-size="30">*</text>
<text x="827.61" y="590.34" font-size="30">*</text>
<line x1="674.80" y1="737.70" x2="795.80" y2="737.70" stroke-width="2.8" stroke-linecap="butt"/>
<line x1="704.80" y1="682.50" x2="765.80" y2="682.50" stroke-width="2.8" stroke-linecap="butt"/>
<line x1="704.80" y1="792.90" x2="765.80" y2="792.90" stroke-width="2.8" stroke-linecap="butt"/>
<line x1="735.30" y1="682.50" x2="735.30" y2="792.90" stroke-width="2.8" stroke-linecap="butt"/>
<line x1="854.00" y1="844.60" x2="975.00" y2="844.60" stroke-width="2.8" stroke-linecap="butt"/>
<line x1="883.70" y1="833.00" x2="945.30" y2="833.00" stroke-width="2.8" stroke-linecap="butt"/>
<line x1="883.70" y1="856.60" x2="945.30" y2="856.60" stroke-width="2.8" stroke-linecap="butt"/>
<line x1="914.50" y1="833.00" x2="914.50" y2="856.60" stroke-width="2.8" stroke-linecap="butt"/>
<circle cx="735.1" cy="644.5" r="6.0" fill="none" stroke="#000" stroke-width="2.7"/>
<circle cx="715.3" cy="737.7" r="6.0" fill="none" stroke="#000" stroke-width="2.7"/>
<circle cx="735.9" cy="748.4" r="6.0" fill="none" stroke="#000" stroke-width="2.7"/>
<circle cx="754.9" cy="775" r="6.0" fill="none" stroke="#000" stroke-width="2.7"/>
<circle cx="735.9" cy="783" r="6.0" fill="none" stroke="#000" stroke-width="2.7"/>
<rect x="888.7" y="826.5" width="12.6" height="12.6" fill="#111" stroke="none"/>
<rect x="888.7" y="836.7" width="12.6" height="12.6" fill="#111" stroke="none"/>
<rect x="908.5" y="830.9000000000001" width="12.6" height="12.6" fill="#111" stroke="none"/>
<rect x="928.1" y="845.7" width="12.6" height="12.6" fill="#111" stroke="none"/>
<rect x="908.5" y="855.3000000000001" width="12.6" height="12.6" fill="#111" stroke="none"/>
<text transform="translate(1002.92,545.59) scale(1.0,1.03)" font-size="34">E</text>
<line x1="1178.30" y1="565.50" x2="1178.30" y2="892.90" stroke-width="3" stroke-linecap="butt"/>
<line x1="1168.50" y1="567.00" x2="1178.30" y2="567.00" stroke-width="3" stroke-linecap="butt"/>
<text x="1120.26" y="574.78" font-size="23.5" font-weight="normal" style="stroke:#000;stroke-width:0.85px">0.20</text>
<line x1="1168.50" y1="648.20" x2="1178.30" y2="648.20" stroke-width="3" stroke-linecap="butt"/>
<text x="1120.33" y="655.98" font-size="23.5" font-weight="normal" style="stroke:#000;stroke-width:0.85px">0.15</text>
<line x1="1168.50" y1="729.40" x2="1178.30" y2="729.40" stroke-width="3" stroke-linecap="butt"/>
<text x="1120.26" y="737.18" font-size="23.5" font-weight="normal" style="stroke:#000;stroke-width:0.85px">0.10</text>
<line x1="1168.50" y1="810.60" x2="1178.30" y2="810.60" stroke-width="3" stroke-linecap="butt"/>
<text x="1120.33" y="818.38" font-size="23.5" font-weight="normal" style="stroke:#000;stroke-width:0.85px">0.05</text>
<line x1="1168.50" y1="891.40" x2="1178.30" y2="891.40" stroke-width="3" stroke-linecap="butt"/>
<text x="1120.26" y="899.18" font-size="23.5" font-weight="normal" style="stroke:#000;stroke-width:0.85px">0.00</text>
<line x1="1168.50" y1="891.40" x2="1528.00" y2="891.40" stroke-width="3" stroke-linecap="butt"/>
<line x1="1266.40" y1="891.40" x2="1266.40" y2="902.40" stroke-width="3" stroke-linecap="butt"/>
<line x1="1443.10" y1="891.40" x2="1443.10" y2="902.40" stroke-width="3" stroke-linecap="butt"/>
<text transform="translate(1195.38,925.00) scale(1.0,1.03)" font-size="27.3">Control NC</text>
<text transform="translate(1359.67,925.00) scale(1.0,1.03)" font-size="27.3">LDB1 shRNA</text>
<text transform="translate(1067.50,876.59) rotate(-90) scale(1,1.03)" font-size="30.6">Relative mRNA level</text>
<text transform="translate(1104.60,851.90) rotate(-90) scale(1,1.03)" font-size="30.6">(CCNA1/GAPDH)</text>
<path d="M1266.3,621.6 V593.5 H1445.2 V790" fill="none" stroke-width="2.8"/>
<text x="1343.31" y="592.24" font-size="30">*</text>
<text x="1357.81" y="592.24" font-size="30">*</text>
<line x1="1206.90" y1="691.30" x2="1325.90" y2="691.30" stroke-width="2.8" stroke-linecap="butt"/>
<line x1="1236.30" y1="647.50" x2="1296.50" y2="647.50" stroke-width="2.8" stroke-linecap="butt"/>
<line x1="1236.30" y1="735.00" x2="1296.50" y2="735.00" stroke-width="2.8" stroke-linecap="butt"/>
<line x1="1266.40" y1="647.50" x2="1266.40" y2="735.00" stroke-width="2.8" stroke-linecap="butt"/>
<line x1="1383.70" y1="820.70" x2="1502.50" y2="820.70" stroke-width="2.8" stroke-linecap="butt"/>
<line x1="1413.00" y1="796.00" x2="1473.20" y2="796.00" stroke-width="2.8" stroke-linecap="butt"/>
<line x1="1413.00" y1="844.60" x2="1473.20" y2="844.60" stroke-width="2.8" stroke-linecap="butt"/>
<line x1="1443.10" y1="796.00" x2="1443.10" y2="844.60" stroke-width="2.8" stroke-linecap="butt"/>
<circle cx="1285.4" cy="648.3" r="6.0" fill="none" stroke="#000" stroke-width="2.7"/>
<circle cx="1266.3" cy="665.4" r="6.0" fill="none" stroke="#000" stroke-width="2.7"/>
<circle cx="1247.3" cy="681.8" r="6.0" fill="none" stroke="#000" stroke-width="2.7"/>
<circle cx="1266.3" cy="697.7" r="6.0" fill="none" stroke="#000" stroke-width="2.7"/>
<circle cx="1266.3" cy="762.4" r="6.0" fill="none" stroke="#000" stroke-width="2.7"/>
<rect x="1437.0" y="788.5" width="12.6" height="12.6" fill="#111" stroke="none"/>
<rect x="1416.8" y="804.1" width="12.6" height="12.6" fill="#111" stroke="none"/>
<rect x="1456.0" y="804.1" width="12.6" height="12.6" fill="#111" stroke="none"/>
<rect x="1437.0" y="821.2" width="12.6" height="12.6" fill="#111" stroke="none"/>
<rect x="1437.0" y="853.2" width="12.6" height="12.6" fill="#111" stroke="none"/>
</g>
</svg></body></html>
